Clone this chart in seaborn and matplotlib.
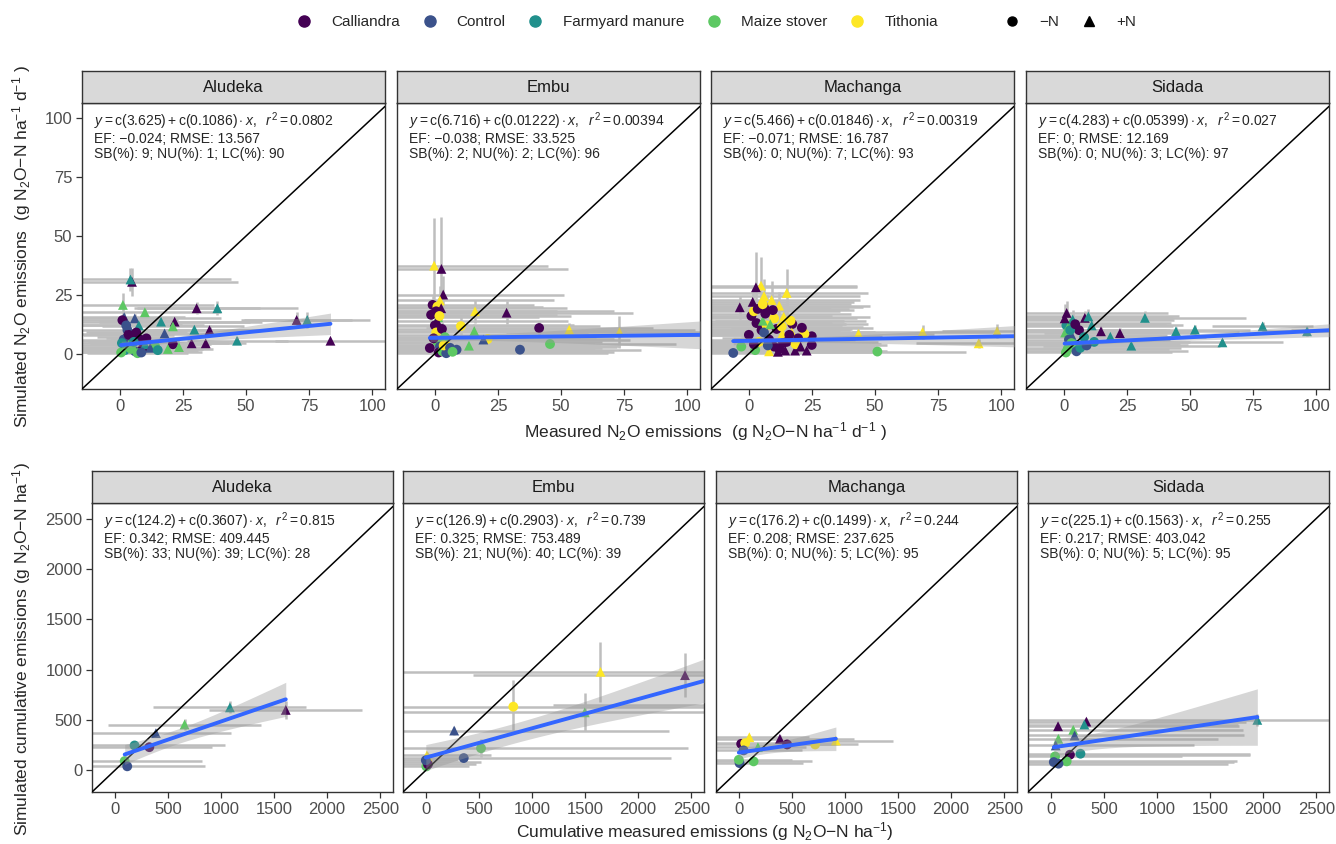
import numpy as np
import pandas as pd
import matplotlib
matplotlib.use("Agg")
import matplotlib.pyplot as plt
from matplotlib.lines import Line2D
import seaborn as sns

sns.set_theme(style="white")
plt.rcParams["font.family"] = ["Liberation Sans", "DejaVu Sans"]
plt.rcParams["mathtext.fontset"] = "custom"
plt.rcParams["mathtext.rm"] = "Liberation Sans"
plt.rcParams["mathtext.it"] = "Liberation Sans:italic"
plt.rcParams["mathtext.bf"] = "Liberation Sans:bold"

sites = ["Aludeka", "Embu", "Machanga", "Sidada"]
trt_names = {"Ca": "Calliandra", "Co": "Control", "FM": "Farmyard manure",
             "MS": "Maize stover", "Ti": "Tithonia"}
treatments = list(trt_names.values())
trt_colors = ["#440154", "#3B528B", "#21908C", "#5DC863", "#FDE725"]
n_levels = ["\u2212N", "+N"]

# rows: treatment, N level, measured, simulated, sd measured, sd simulated
# daily fluxes (g N2O-N ha-1 d-1)
daily_aludeka = [
    ("Ca", "+", 4.8, 30.5, 42, 6), ("FM", "+", 4.2, 31.5, 40, 5),
    ("MS", "+", 1.2, 20.7, 36, 5), ("MS", "+", 9.9, 17.6, 30, 2),
    ("Ca", "+", 30.4, 19.3, 25, 2.5), ("FM", "+", 38.6, 19.3, 32, 3),
    ("Co", "+", 1.7, 15.5, 24, 2), ("Co", "+", 5.9, 15.0, 34, 2),
    ("Ca", "-", 1.0, 14.2, 22, 1.5), ("FM", "+", 16.3, 13.6, 40, 2),
    ("Ca", "+", 21.7, 13.6, 30, 2), ("MS", "+", 21.0, 11.6, 28, 2),
    ("FM", "+", 29.5, 10.2, 25, 2), ("Ca", "+", 35.5, 10.0, 22, 2),
    ("Co", "+", 17.7, 8.6, 30, 2), ("Ca", "+", 70.0, 14.3, 22, 3.5),
    ("FM", "+", 74.2, 14.3, 25, 3.5), ("FM", "+", 46.4, 5.5, 20, 1.5),
    ("Ca", "+", 83.4, 5.5, 22, 1), ("Ca", "+", 28.4, 4.4, 15, 1),
    ("Ca", "+", 34.0, 4.4, 16, 1), ("Ca", "-", 21.0, 4.0, 15, 1),
    ("MS", "+", 23.4, 2.8, 12, 1), ("MS", "+", 19.0, 2.0, 14, 1),
    ("MS", "-", 14.0, 3.0, 16, 1), ("Co", "-", 3.0, 10.0, 18, 1),
    ("Ca", "-", 5.0, 7.0, 14, 1), ("Ca", "-", 8.0, 6.0, 12, 1),
    ("Co", "-", 4.0, 3.5, 22, 1), ("Co", "-", 6.0, 1.0, 25, 1),
    ("Ca", "-", 9.0, 2.0, 28, 1), ("FM", "-", 2.0, 1.5, 18, 1),
    ("MS", "-", 0.5, 0.5, 16, 1), ("MS", "+", 3.5, 5.5, 20, 1),
    ("FM", "+", 10.0, 4.0, 22, 1), ("Co", "+", 12.0, 2.5, 20, 1),
    ("FM", "-", 15.0, 1.5, 14, 1), ("MS", "-", 7.0, 0.2, 20, 1),
    ("Ca", "+", 2.5, 8.5, 30, 2), ("FM", "+", 7.5, 12.0, 26, 2),
    ("Co", "-", 1.5, 6.0, 20, 1), ("MS", "+", 2.0, 3.0, 24, 1),
    ("FM", "-", 0.8, 4.5, 18, 1), ("Ca", "-", 6.5, 9.0, 20, 1),
    ("Ca", "-", 3.5, 8.0, 18, 1), ("Co", "-", 2.5, 12.0, 22, 1.5),
    ("MS", "-", 4.5, 2.0, 20, 1), ("FM", "-", 5.5, 5.0, 18, 1),
    ("Co", "-", 8.5, 0.5, 24, 1), ("Ca", "-", 10.5, 6.5, 16, 1),
]
daily_embu = [
    ("Ti", "+", -0.3, 37.4, 45, 20), ("Ca", "+", 2.6, 36.0, 50, 22),
    ("Ca", "+", 3.3, 25.1, 48, 8), ("Ti", "+", 2.0, 22.6, 45, 6),
    ("Ca", "-", -0.9, 20.7, 40, 4), ("Ti", "-", 1.0, 20.0, 42, 3),
    ("Ca", "+", 2.5, 19.3, 50, 3), ("MS", "+", 1.3, 15.5, 40, 3),
    ("Ti", "+", 15.9, 18.0, 55, 5), ("Ca", "+", 28.4, 17.4, 50, 5),
    ("Ca", "-", 41.3, 10.9, 45, 3), ("Ti", "+", 53.2, 10.2, 50, 3),
    ("Ti", "+", 73.1, 9.2, 45, 7), ("MS", "+", 15.6, 9.6, 60, 3),
    ("Ti", "-", 10.3, 11.7, 55, 4), ("MS", "-", 45.6, 4.1, 50, 2),
    ("Co", "-", 33.7, 1.7, 48, 1), ("MS", "+", 13.5, 3.4, 60, 1),
    ("Co", "-", 8.6, 1.7, 55, 1), ("Ti", "-", 20.9, 6.2, 50, 2),
    ("Co", "+", 19.2, 6.0, 58, 2), ("Ca", "+", 3.7, 8.0, 65, 3),
    ("Ca", "-", -2.0, 2.4, 60, 1), ("Ca", "-", 0.0, 12.0, 55, 3),
    ("Ti", "-", 0.5, 9.0, 60, 3), ("MS", "-", 1.0, 5.0, 65, 2),
    ("Co", "-", 2.0, 3.0, 70, 1), ("Ca", "-", 1.5, 0.5, 62, 1),
    ("MS", "-", 3.0, 1.0, 66, 1), ("Ti", "+", 5.0, 4.5, 58, 2),
    ("Ca", "+", 0.8, 14.0, 52, 4), ("Co", "-", 4.5, 0.2, 64, 1),
    ("Ca", "-", -1.5, 16.5, 50, 4), ("Ca", "-", 0.5, 18.0, 48, 4),
    ("Ti", "-", 1.8, 16.0, 52, 3), ("Ca", "-", 2.8, 10.5, 56, 3),
    ("MS", "-", 4.0, 7.0, 60, 2), ("Ca", "-", -0.5, 6.5, 58, 2),
    ("Ti", "-", 3.5, 3.5, 62, 1), ("Co", "-", 6.0, 2.5, 60, 1),
    ("MS", "-", 7.0, 0.8, 64, 1), ("Ti", "+", 110.0, 8.0, 40, 3),
]
daily_machanga = [
    ("Ti", "+", 4.8, 28.9, 38, 12), ("Ca", "+", 2.8, 28.2, 40, 15),
    ("Ca", "+", -3.6, 19.7, 36, 5), ("Ti", "+", 15.0, 25.8, 32, 10),
    ("Ti", "+", 9.0, 22.8, 35, 8), ("Ti", "+", 12.0, 20.4, 36, 6),
    ("Ti", "+", 13.8, 15.7, 34, 5), ("Ca", "-", 17.2, 12.6, 30, 3),
    ("Ca", "-", 24.9, 7.4, 28, 2), ("Ca", "-", 24.9, 3.7, 30, 2),
    ("Ca", "+", 22.9, 1.3, 32, 1), ("Ca", "+", 18.3, 1.3, 34, 1),
    ("Ca", "+", 14.4, 1.3, 36, 1), ("Ti", "-", 22.0, 8.4, 30, 2),
    ("Ti", "+", 13.3, 8.7, 34, 2), ("Ti", "+", 17.0, 9.0, 33, 2),
    ("Ti", "+", 43.4, 8.4, 30, 2), ("Ti", "+", 68.8, 9.2, 28, 3),
    ("Ti", "+", 91.0, 4.4, 25, 2), ("Ti", "+", 98.3, 9.5, 22, 3),
    ("MS", "-", 50.9, 0.9, 35, 1), ("Co", "-", -6.2, 0.3, 30, 1),
    ("MS", "-", -3.0, 3.0, 30, 1), ("Ca", "-", 1.0, 16.0, 32, 4),
    ("Ca", "-", 3.0, 13.0, 30, 3), ("Ti", "-", 2.0, 18.0, 34, 4),
    ("Ca", "-", 5.0, 10.0, 35, 3), ("Ti", "-", 7.0, 12.0, 30, 3),
    ("Ca", "+", 1.5, 22.0, 40, 6), ("MS", "+", 5.5, 14.0, 32, 3),
    ("Ca", "-", 8.0, 6.0, 34, 2), ("Ti", "-", 4.0, 5.0, 36, 2),
    ("Ca", "-", 10.0, 3.0, 40, 1), ("Co", "-", 6.0, 9.0, 30, 2),
    ("Ca", "-", 12.0, 2.0, 38, 1), ("Ti", "-", 10.0, 15.0, 33, 4),
    ("Ca", "-", 0.0, 8.0, 34, 2), ("MS", "-", 2.5, 1.5, 36, 1),
    ("Ca", "+", 7.0, 20.0, 38, 5), ("Ti", "+", 8.0, 1.0, 40, 1),
    ("Ca", "-", 15.0, 5.0, 36, 2), ("Ca", "-", 3.5, 19.0, 36, 4),
    ("Ca", "-", 6.5, 17.0, 34, 4), ("Ti", "-", 5.5, 21.0, 35, 5),
    ("Ca", "-", 9.5, 18.5, 32, 4), ("Ca", "-", 11.0, 10.5, 30, 3),
    ("Ti", "-", 13.0, 11.5, 32, 3), ("Ca", "-", 16.0, 8.0, 32, 2),
    ("Ca", "-", 19.5, 6.5, 30, 2), ("Ti", "-", 18.5, 4.0, 34, 2),
    ("Ca", "+", 20.5, 3.0, 30, 1), ("Ca", "-", 13.5, 4.5, 36, 2),
    ("Ti", "+", 6.0, 24.5, 38, 7), ("Ca", "-", 21.0, 11.0, 28, 3),
    ("MS", "+", 8.5, 12.5, 30, 3), ("Ti", "-", 16.5, 14.0, 30, 3),
    ("Ca", "-", 2.0, 4.0, 36, 2), ("Co", "-", 7.5, 3.5, 34, 1),
    ("Ca", "+", 11.5, 0.8, 38, 1), ("Ti", "+", 110.0, 7.5, 20, 2),
]
daily_sidada = [
    ("Ca", "+", 1.1, 17.3, 40, 5), ("Ca", "+", 8.3, 15.2, 35, 3),
    ("FM", "+", 9.7, 15.8, 36, 3), ("FM", "+", 32.1, 15.2, 40, 3),
    ("Ca", "+", 5.4, 11.6, 38, 2), ("Ca", "+", 14.7, 9.5, 35, 2),
    ("Ca", "+", 22.2, 8.7, 30, 2), ("FM", "+", 18.4, 7.2, 38, 2),
    ("FM", "+", 26.7, 3.4, 35, 1), ("FM", "+", 44.4, 9.5, 25, 2),
    ("FM", "+", 51.9, 10.2, 22, 2), ("FM", "+", 62.8, 4.8, 24, 1.5),
    ("FM", "+", 78.7, 11.6, 20, 2), ("FM", "+", 96.3, 9.5, 18, 2),
    ("FM", "-", 1.0, 12.0, 36, 3), ("MS", "+", 0.5, 9.0, 38, 3),
    ("Co", "-", 2.0, 6.0, 40, 2), ("FM", "-", 4.0, 4.0, 42, 2),
    ("MS", "-", 1.5, 2.0, 40, 1), ("Co", "+", 3.0, 8.0, 38, 2),
    ("Ca", "-", 6.0, 10.0, 36, 2), ("FM", "-", 8.0, 7.0, 35, 2),
    ("MS", "+", 2.5, 13.0, 40, 3), ("Co", "-", 5.0, 1.0, 44, 1),
    ("FM", "-", 12.0, 5.0, 38, 1), ("MS", "-", 0.8, 0.5, 42, 1),
    ("FM", "+", 3.5, 14.5, 40, 4), ("Ca", "+", 0.3, 15.0, 38, 6),
    ("FM", "-", 2.5, 10.0, 38, 2), ("Ca", "-", 4.5, 12.5, 36, 3),
    ("FM", "-", 6.5, 2.5, 40, 1), ("MS", "-", 3.0, 4.5, 42, 1),
    ("Co", "-", 9.0, 3.5, 40, 1), ("FM", "+", 11.0, 12.0, 36, 3),
    ("FM", "+", 110.0, 10.0, 20, 2),
]

# cumulative emissions (g N2O-N ha-1)
cum_aludeka = [
    ("Ca", "+", 1610, 600, 720, 90), ("FM", "+", 1084, 625, 720, 60),
    ("MS", "+", 657, 455, 720, 50), ("Co", "+", 387, 369, 710, 40),
    ("FM", "-", 186, 247, 850, 30), ("Ca", "-", 325, 230, 590, 30),
    ("MS", "-", 93, 92, 730, 20), ("Co", "-", 117, 40, 730, 15),
]
cum_embu = [
    ("Ca", "+", 2441, 945, 2000, 215), ("Ti", "+", 1645, 978, 1950, 300),
    ("Ti", "-", 824, 632, 2000, 260), ("MS", "+", 1497, 576, 2000, 190),
    ("Co", "+", 267, 395, 2020, 40), ("MS", "-", 520, 220, 1950, 90),
    ("Co", "-", 357, 122, 1950, 30), ("Ti", "+", 10, 148, 600, 30),
    ("Ti", "-", 15, 82, 500, 20), ("MS", "-", 5, 39, 400, 15),
    ("Ca", "-", 20, 60, 450, 15), ("Co", "-", 0, 100, 300, 15),
    ("Ti", "+", 2700, 650, 1500, 100),
]
cum_machanga = [
    ("Ti", "+", 914, 296, 540, 30), ("Ti", "+", 99, 329, 560, 25),
    ("Ca", "-", 22, 263, 500, 20), ("Ti", "-", 60, 270, 520, 20),
    ("Ca", "+", 387, 313, 700, 40), ("Ca", "-", 455, 257, 480, 30),
    ("Ti", "-", 719, 257, 400, 30), ("MS", "-", 139, 89, 550, 20),
    ("Co", "-", 7, 72, 600, 15), ("MS", "-", 0, 105, 500, 15),
    ("Co", "-", 45, 198, 550, 20), ("MS", "+", 180, 230, 450, 25),
]
cum_sidada = [
    ("FM", "+", 1945, 501, 2200, 60), ("Ca", "+", 335, 484, 1500, 40),
    ("FM", "+", 316, 455, 1450, 35), ("Ca", "+", 68, 438, 1700, 30),
    ("MS", "+", 211, 402, 1600, 40), ("Co", "+", 224, 346, 1600, 30),
    ("MS", "+", 71, 313, 1500, 30), ("Co", "+", 46, 247, 1300, 30),
    ("FM", "-", 279, 165, 1600, 20), ("Ca", "-", 180, 155, 1700, 20),
    ("MS", "-", 40, 138, 1200, 20), ("MS", "-", 149, 89, 1600, 15),
    ("Co", "-", 28, 82, 1700, 15), ("Co", "-", 72, 66, 1600, 15),
]

# fit statistics per site (daily row, cumulative row)
daily_intercept = [3.625, 6.716, 5.466, 4.283]
daily_slope = [0.1086, 0.01222, 0.01846, 0.05399]
daily_r2 = ["0.0802", "0.00394", "0.00319", "0.027"]
daily_ef = ["\u22120.024", "\u22120.038", "\u22120.071", "0"]
daily_rmse = ["13.567", "33.525", "16.787", "12.169"]
daily_sb = [9, 2, 0, 0]
daily_nu = [1, 2, 7, 3]
daily_lc = [90, 96, 93, 97]
# the daily panels hold many more overlapping observations than listed above
daily_n_obs = [170, 200, 260, 200]

cum_intercept = [124.2, 126.9, 176.2, 225.1]
cum_slope = [0.3607, 0.2903, 0.1499, 0.1563]
cum_r2 = ["0.815", "0.739", "0.244", "0.255"]
cum_ef = ["0.342", "0.325", "0.208", "0.217"]
cum_rmse = ["409.445", "753.489", "237.625", "403.042"]
cum_sb = [33, 21, 0, 0]
cum_nu = [39, 40, 5, 5]
cum_lc = [28, 39, 95, 95]

W, H = 1336, 844
STRIP = 32
fig = plt.figure(figsize=(W / 100, H / 100), dpi=100)


def to_frame(rows):
    df = pd.DataFrame(rows, columns=["trt", "N", "meas", "sim", "meas_sd", "sim_sd"])
    df["treatment"] = df["trt"].map(trt_names)
    df["N"] = df["N"].map({"-": "\u2212N", "+": "+N"})
    return df


def draw_panel(rect, site, rows, a, b, n_obs, stats, lims, ticks, show_y):
    # rect = left, strip top, width, bottom of panel (pixels from top-left)
    l, t, w, bot = rect
    ax = fig.add_axes([l / W, 1 - bot / H, w / W, (bot - t - STRIP) / H])
    strip = fig.add_axes([l / W, 1 - (t + STRIP) / H, w / W, STRIP / H])
    strip.set_facecolor("#D9D9D9")
    strip.set_xticks([])
    strip.set_yticks([])
    for sp in strip.spines.values():
        sp.set_color("#333333")
        sp.set_linewidth(1.0)
    strip.text(0.5, 0.48, site, ha="center", va="center", fontsize=12, color="#1A1A1A")

    df = to_frame(rows)
    ax.errorbar(df["meas"], df["sim"], xerr=df["meas_sd"], yerr=df["sim_sd"],
                fmt="none", ecolor="#BEBEBE", elinewidth=1.8, capsize=0, zorder=1)
    sns.scatterplot(data=df, x="meas", y="sim", hue="treatment", style="N",
                    hue_order=treatments, palette=trt_colors, style_order=n_levels,
                    markers={"\u2212N": "o", "+N": "^"}, s=50, linewidth=0,
                    legend=False, ax=ax, zorder=2)
    ax.axline((0, 0), slope=1, color="black", lw=1.1, zorder=3)

    # fitted line with 95% confidence band
    x = df["meas"].to_numpy()
    y = df["sim"].to_numpy()
    n = n_obs if n_obs else len(x)
    xs = np.linspace(x.min(), x.max(), 100)
    fit = a + b * xs
    s = np.sqrt(np.sum((y - a - b * x) ** 2) / (len(x) - 2))
    var_x = np.mean((x - x.mean()) ** 2)
    se = s * np.sqrt(1 / n + (xs - x.mean()) ** 2 / (n * var_x))
    ax.fill_between(xs, fit - 1.96 * se, fit + 1.96 * se, color="#999999",
                    alpha=0.4, lw=0, zorder=4)
    ax.plot(xs, fit, color="#3366FF", lw=2.8, zorder=5)

    ax.text(0.04, 0.975, stats, transform=ax.transAxes, ha="left", va="top",
            fontsize=10, linespacing=1.05, zorder=6)

    ax.set_xlim(lims)
    ax.set_ylim(lims[0], lims[1] + (lims[1] - lims[0]) * 0.012)
    ax.set_xticks(ticks)
    ax.set_yticks(ticks)
    ax.set_xlabel("")
    ax.set_ylabel("")
    ax.tick_params(direction="out", length=4, width=0.9, color="#333333",
                   labelcolor="#4D4D4D", labelsize=12, pad=3,
                   bottom=True, left=show_y, labelleft=show_y)
    for sp in ax.spines.values():
        sp.set_color("#333333")
        sp.set_linewidth(1.0)
    return ax


def stats_text(a, b, r2, ef, rmse, sb, nu, lc):
    line1 = r"$y = \mathrm{c}(%s) + \mathrm{c}(%s) \cdot x,\ \ r^2 = %s$" % (a, b, r2)
    line2 = "EF: %s; RMSE: %s" % (ef, rmse)
    line3 = "SB(%%): %s; NU(%%): %s; LC(%%): %s" % (sb, nu, lc)
    return line1 + "\n" + line2 + "\n" + line3


daily_rows = [daily_aludeka, daily_embu, daily_machanga, daily_sidada]
cum_rows = [cum_aludeka, cum_embu, cum_machanga, cum_sidada]
top_lefts = [82, 397, 711, 1026]
bot_lefts = [92, 403, 716, 1028]

for i, site in enumerate(sites):
    txt = stats_text(daily_intercept[i], daily_slope[i], daily_r2[i], daily_ef[i],
                     daily_rmse[i], daily_sb[i], daily_nu[i], daily_lc[i])
    draw_panel((top_lefts[i], 71, 303, 389), site, daily_rows[i],
               daily_intercept[i], daily_slope[i], daily_n_obs[i], txt, (-15, 105),
               [0, 25, 50, 75, 100], i == 0)

    txt = stats_text(cum_intercept[i], cum_slope[i], cum_r2[i], cum_ef[i],
                     cum_rmse[i], cum_sb[i], cum_nu[i], cum_lc[i])
    draw_panel((bot_lefts[i], 471, 301, 792), site, cum_rows[i],
               cum_intercept[i], cum_slope[i], None, txt, (-215, 2620),
               [0, 500, 1000, 1500, 2000, 2500], i == 0)

# axis titles
fig.text(705 / W, 1 - 432 / H,
         "Measured N$_2$O emissions  (g N$_2$O\u2212N ha$^{-1}$ d$^{-1}$ )",
         ha="center", va="center", fontsize=12.5)
fig.text(22 / W, 1 - 247 / H,
         "Simulated N$_2$O emissions  (g N$_2$O\u2212N ha$^{-1}$ d$^{-1}$ )",
         ha="center", va="center", rotation=90, fontsize=12.5)
fig.text(705 / W, 1 - 832 / H,
         "Cumulative measured emissions (g N$_2$O\u2212N ha$^{-1}$)",
         ha="center", va="center", fontsize=12.5)
fig.text(22 / W, 1 - 649 / H,
         "Simulated cumulative emissions (g N$_2$O\u2212N ha$^{-1}$)",
         ha="center", va="center", rotation=90, fontsize=12.5)

# legends
leg_kw = dict(loc="center", frameon=False, fontsize=11, handletextpad=1.27,
              columnspacing=1.46, handlelength=1.0, borderpad=0, borderaxespad=0)
trt_handles = [Line2D([], [], marker="o", ls="", color=c, markersize=8)
               for c in trt_colors]
fig.legend(trt_handles, treatments, bbox_to_anchor=(617 / W, 1 - 22 / H),
           ncol=5, **leg_kw)
n_handles = [Line2D([], [], marker=m, ls="", color="black", markersize=6.5)
             for m in ["o", "^"]]
fig.legend(n_handles, n_levels, bbox_to_anchor=(1070 / W, 1 - 22 / H),
           ncol=2, **leg_kw)

fig.savefig("out.png", dpi=100)
